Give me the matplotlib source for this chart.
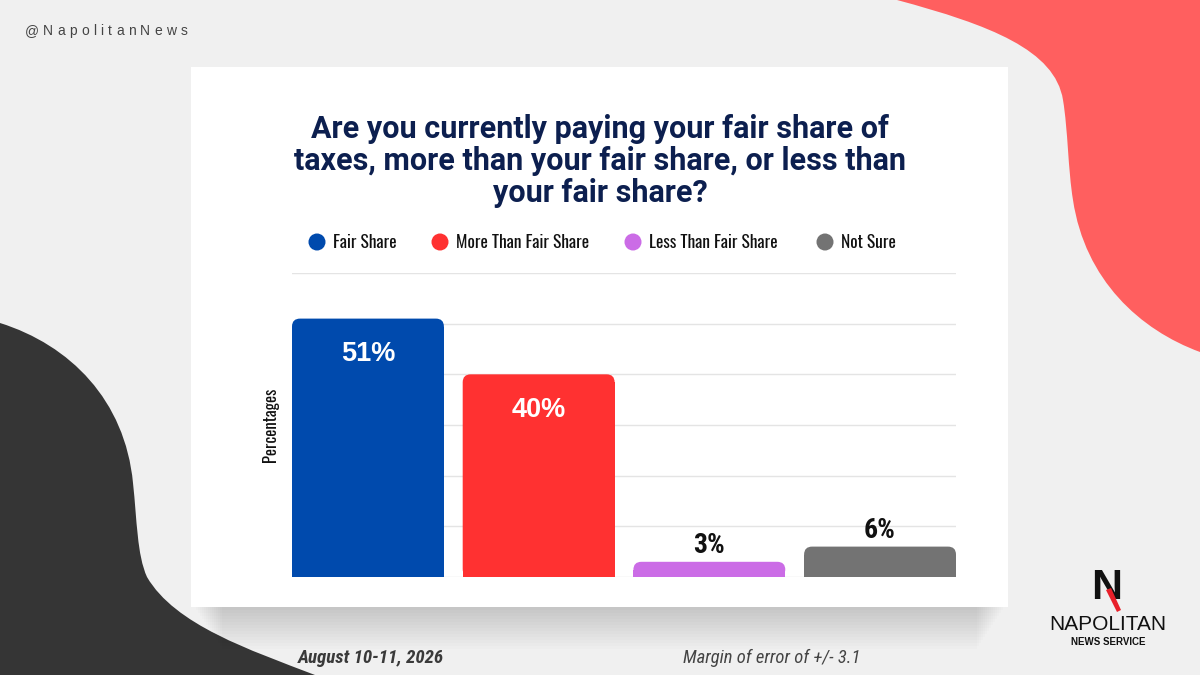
import matplotlib
matplotlib.use("Agg")
import matplotlib.pyplot as plt
from matplotlib.patches import Rectangle, FancyBboxPatch, PathPatch, Circle, Polygon
from matplotlib.path import Path
from matplotlib.transforms import Affine2D

categories = ["Fair Share", "More Than Fair Share", "Less Than Fair Share", "Not Sure"]
values = [51, 40, 3, 6]
colors = ["#004aad", "#ff3131", "#cb6ce6", "#737373"]
title = "Are you currently paying your fair share of\ntaxes, more than your fair share, or less than\nyour fair share?"
handle = "@NapolitanNews"
date_text = "August 10-11, 2026"
margin_text = "Margin of error of +/- 3.1"

W, H = 1200, 675
fig = plt.figure(figsize=(12, 6.75), dpi=100)
fig.patch.set_facecolor("#f0f0f0")

# pixel coords (y down) -> figure coords
px = Affine2D().scale(1 / W, -1 / H).translate(0, 1) + fig.transFigure

ROBOTO = ["Roboto", "Liberation Sans", "DejaVu Sans"]
BOLDN = ["Roboto Condensed", "Barlow Semi Condensed", "DejaVu Sans"]
COND = ["Oswald", "Archivo Narrow", "DejaVu Sans"]
SANS = ["Liberation Sans", "DejaVu Sans"]

# background blobs
red_blob = Path(
    [(897, 0), (990, 25), (1055, 50), (1063, 100),
     (1068, 130), (1068, 170), (1073, 200),
     (1085, 280), (1140, 330), (1200, 352),
     (1200, 0), (897, 0)],
    [Path.MOVETO, Path.CURVE4, Path.CURVE4, Path.CURVE4,
     Path.CURVE4, Path.CURVE4, Path.CURVE4,
     Path.CURVE4, Path.CURVE4, Path.CURVE4,
     Path.LINETO, Path.CLOSEPOLY])
fig.add_artist(PathPatch(red_blob, transform=px, facecolor="#ff5f5f", edgecolor="none", zorder=0))

dark_blob = Path(
    [(0, 323), (70, 345), (125, 400), (133, 483),
     (137, 520), (137, 555), (147, 577),
     (175, 625), (250, 650), (315, 675),
     (0, 675), (0, 323)],
    [Path.MOVETO, Path.CURVE4, Path.CURVE4, Path.CURVE4,
     Path.CURVE4, Path.CURVE4, Path.CURVE4,
     Path.CURVE4, Path.CURVE4, Path.CURVE4,
     Path.LINETO, Path.CLOSEPOLY])
fig.add_artist(PathPatch(dark_blob, transform=px, facecolor="#353535", edgecolor="none", zorder=0))

# card shadow + card
for i in range(14):
    fig.add_artist(Rectangle((196 + i * 2, 70 + i * 3), 807 - i * 4, 540, transform=px,
                             facecolor="#000000", alpha=0.011, edgecolor="none", zorder=1))
fig.add_artist(Rectangle((191, 67), 817, 540, transform=px, facecolor="white",
                         edgecolor="none", zorder=2))

# handle, letter spaced
fig.canvas.draw()
renderer = fig.canvas.get_renderer()
x = 25
for ch in handle:
    t = fig.text(x / W, 1 - 31 / H, ch, fontsize=10, family=SANS, color="#444444",
                 va="center", ha="left", zorder=3)
    x += t.get_window_extent(renderer).width + 4.2

# title
fig.text(600 / W, 1 - 161 / H, title, ha="center", va="center", fontsize=22, fontweight="bold",
         family=ROBOTO, color="#0c1f4f", linespacing=1.07, zorder=3)

# legend
leg_x = [317, 440, 633, 825]
for lx, lab, c in zip(leg_x, categories, colors):
    fig.add_artist(Circle((lx, 242), 8.5, transform=px, facecolor=c, edgecolor="none", zorder=3))
    fig.text((lx + 16) / W, 1 - 243 / H, lab, ha="left", va="center", fontsize=12.5,
             family=COND, color="#111111", zorder=3)

# axes
ax = fig.add_axes([292 / W, (H - 577) / H, (956 - 292) / W, (577 - 273) / H], zorder=4)
ax.patch.set_alpha(0)
bw = 0.89
ax.set_xlim(-bw / 2, len(values) - 1 + bw / 2)
ax.set_ylim(0, 60)
ax.set_yticks(range(0, 61, 10))
ax.set_xticks([])
ax.tick_params(axis="y", length=0, labelleft=False)
ax.grid(axis="y", color="#e4e4e4", linewidth=1)
ax.set_axisbelow(True)
for s in ax.spines.values():
    s.set_visible(False)

r_px = 8
rx = r_px / ((956 - 292) / (len(values) - 1 + bw))
ry = r_px / ((577 - 273) / 60)
xs = range(len(values))
ax.bar(xs, [v - ry for v in values], width=bw, color=colors, zorder=2)
for i, (v, c) in enumerate(zip(values, colors)):
    ax.add_patch(FancyBboxPatch((i - bw / 2, 0), bw, v,
                                boxstyle=f"round,pad=0,rounding_size={rx}",
                                mutation_aspect=ry / rx, facecolor=c, edgecolor="none", zorder=2))
    if v > 20:
        ax.text(i, v - 7, f"{v}%", ha="center", va="center", color="white",
                fontsize=19.5, fontweight="bold", family=SANS, zorder=3)
    else:
        ax.text(i, v + 3.2, f"{v}%", ha="center", va="center", color="#111111",
                fontsize=20, fontweight="bold", family=BOLDN, zorder=3)

fig.text(270 / W, 1 - 425 / H, "Percentages", rotation=90, ha="center", va="center",
         fontsize=12, family=COND, color="#111111", zorder=3)

# footer
fig.text(298 / W, 1 - 658 / H, date_text, ha="left", va="center", fontsize=13.6,
         fontweight="bold", style="italic", family=BOLDN, color="#3a3a3a", zorder=3)
fig.text(683 / W, 1 - 658 / H, margin_text, ha="left", va="center", fontsize=13.4,
         style="italic", family=BOLDN, color="#444444", zorder=3)

# logo
fig.text(1107 / W, 1 - 588 / H, "N", ha="center", va="center", fontsize=31, fontweight="bold",
         family=SANS, color="#111111", zorder=3)
fig.add_artist(Polygon([(1106, 590), (1111, 588), (1121, 610), (1117, 612)], transform=px,
                       facecolor="#e8202a", edgecolor="none", zorder=4))
fig.text(1108 / W, 1 - 625 / H, "NAPOLITAN", ha="center", va="center", fontsize=15,
         family=SANS, color="#111111", zorder=3)
fig.text(1108 / W, 1 - 642 / H, "NEWS SERVICE", ha="center", va="center", fontsize=7,
         fontweight="bold", family=SANS, color="#111111", zorder=3)

fig.savefig("out.png", dpi=100, facecolor=fig.get_facecolor())
